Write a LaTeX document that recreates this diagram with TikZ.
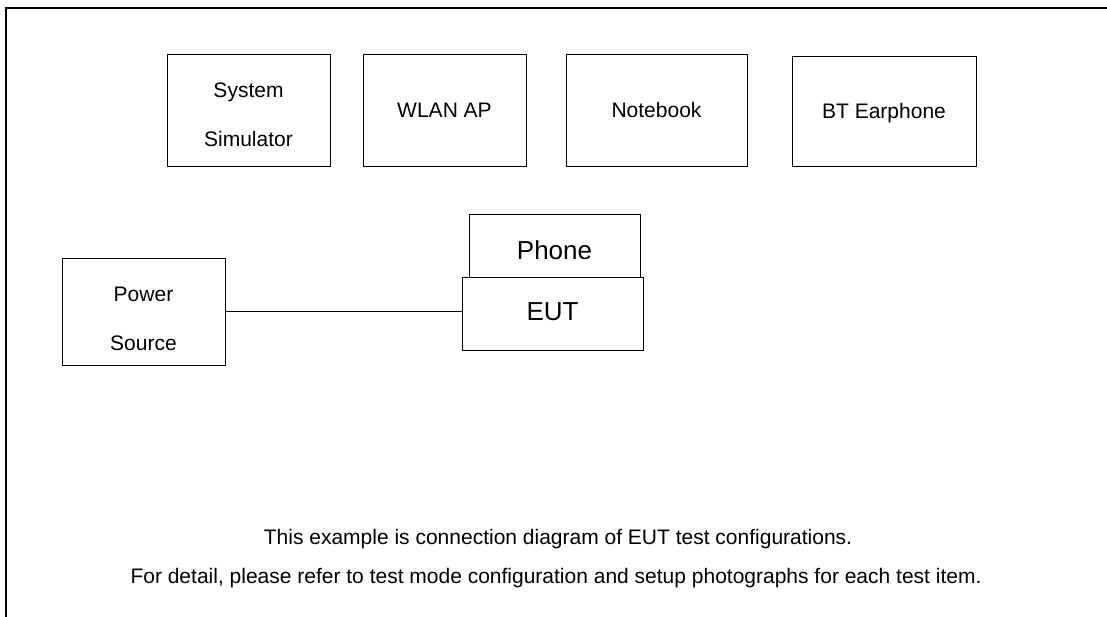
\documentclass[tikz,border=0pt]{standalone}
\usepackage{fontspec}
\setmainfont{Liberation Sans}
\usepackage{tikz}

\begin{document}
\begin{tikzpicture}[x=1pt, y=-1pt,
  					   every node/.style={draw,line width=1pt,inner sep=0pt,align=center,
  					   font=\fontsize{21}{49}\selectfont},
  					   big/.style={font=\fontsize{26}{30}\selectfont,text depth=0pt},
  					   note/.style={draw=none}]
  \useasboundingbox (0,0) rectangle (1107,616);
  \draw[line width=2pt] (6,8) rectangle (1120,630);
  \node[minimum width=163pt,minimum height=112pt,text height=72pt,text depth=0pt] (sim) at (248.5,110) {System\\Simulator};
  \node[minimum width=163pt,minimum height=112pt] (wlan) at (444.5,110) {WLAN AP};
  \node[minimum width=181pt,minimum height=112pt] (notebook) at (656.5,110) {Notebook};
  \node[minimum width=184pt,minimum height=110pt,text depth=0pt] (earphone) at (884,111) {BT Earphone};
  \node[big,minimum width=171pt,minimum height=63pt,text height=28.6pt] (phone) at (554.5,245.5) {Phone};
  \node[big,minimum width=181pt,minimum height=73pt,text height=14.6pt] (eut) at (552.5,313.5) {EUT};
  \node[minimum width=163pt,minimum height=107pt,text height=78pt,text depth=0pt] (power) at (143.5,311.5) {Power\\Source};
  \node[note] (line1) at (558,539) {This example is connection diagram of EUT test configurations.};
  \node[note] (line2) at (556,578) {For detail, please refer to test mode configuration and setup photographs for each test item.};
  \draw (power.east) -- (power.east -| eut.west);
  \end{tikzpicture}
\end{document}
